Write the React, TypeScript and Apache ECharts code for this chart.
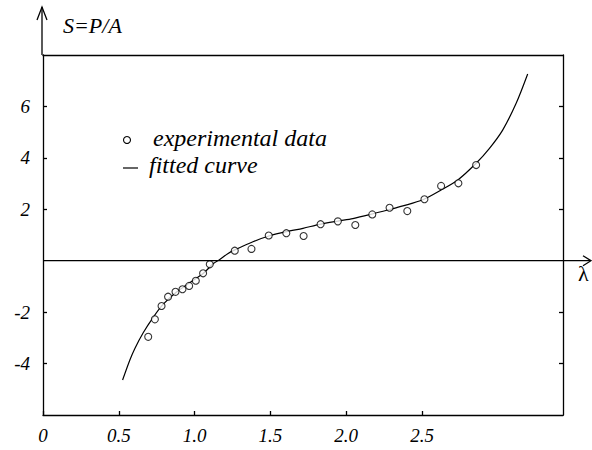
import React, { useEffect, useRef } from "react";
import * as echarts from "echarts";

// experimental data (lambda, S)
const expLambda = [0.694, 0.738, 0.782, 0.825, 0.874, 0.92, 0.964, 1.008, 1.056, 1.1, 1.265, 1.375, 1.489, 1.605, 1.719, 1.831, 1.945, 2.06, 2.172, 2.286, 2.403, 2.516, 2.626, 2.74, 2.857];
const expS = [-2.96, -2.28, -1.76, -1.4, -1.21, -1.11, -0.98, -0.78, -0.49, -0.14, 0.39, 0.46, 0.98, 1.07, 0.96, 1.42, 1.53, 1.39, 1.8, 2.06, 1.93, 2.39, 2.91, 3.01, 3.72];

// fitted curve (lambda, S)
const fitLambda = [0.525, 0.573, 0.606, 0.661, 0.727, 0.792, 0.881, 0.968, 1.056, 1.122, 1.166, 1.221, 1.265, 1.385, 1.495, 1.605, 1.715, 1.825, 1.945, 2.044, 2.154, 2.286, 2.374, 2.505, 2.626, 2.736, 2.857, 2.945, 3.032, 3.121, 3.197];
const fitS = [-4.64, -3.86, -3.41, -2.8, -2.2, -1.7, -1.22, -0.86, -0.5, -0.12, 0.05, 0.28, 0.42, 0.74, 0.97, 1.13, 1.26, 1.41, 1.54, 1.64, 1.79, 1.99, 2.13, 2.37, 2.75, 3.14, 3.79, 4.37, 5.08, 6.12, 7.26];

const xTickValues = [0, 0.5, 1, 1.5, 2, 2.5];
const yTickValues = [-4, -2, 2, 4, 6];

const legendNames = ["experimental data", "fitted curve"];
const yTitle = "S=P/A";
const xTitle = "λ";

const FONT = "Times New Roman";

export default function App() {
  const ref = useRef<HTMLDivElement>(null);

  useEffect(() => {
    if (!ref.current) return;
    const chart = echarts.init(ref.current, undefined, { renderer: "svg" });
    const lineStyle = { color: "#000", width: 1.3 };
    const labelStyle = {
      color: "#000",
      fontFamily: FONT,
      fontStyle: "italic" as const,
      fontSize: 19,
    };
    const txt = (text: string, x: number, y: number, size: number, italic: boolean) => ({
      type: "text",
      x,
      y,
      z: 10,
      style: {
        text,
        fill: "#000",
        fontFamily: FONT,
        fontSize: size,
        fontStyle: italic ? "italic" : "normal",
        verticalAlign: "middle",
      },
    });
    chart.setOption({
      animation: false,
      backgroundColor: "#fff",
      textStyle: { fontFamily: FONT },
      grid: { left: 43, right: 29, top: 55, bottom: 35, containLabel: false },
      xAxis: [
        {
          type: "value",
          min: 0,
          max: 3.43,
          position: "bottom",
          axisLine: { show: true, onZero: false, lineStyle },
          axisTick: { show: true, inside: true, length: 4, customValues: xTickValues, lineStyle },
          axisLabel: {
            ...labelStyle,
            margin: 11,
            customValues: xTickValues,
            formatter: (v: number) => (v === 0 ? "0" : v.toFixed(1)),
          },
          splitLine: { show: false },
        },
        {
          type: "value",
          min: 0,
          max: 3.43,
          position: "top",
          axisLine: { show: true, onZero: false, lineStyle },
          axisTick: { show: false },
          axisLabel: { show: false },
          splitLine: { show: false },
        },
      ],
      yAxis: [
        {
          type: "value",
          min: -6,
          max: 8,
          position: "left",
          axisLine: { show: true, onZero: false, lineStyle },
          axisTick: { show: true, inside: true, length: 4, customValues: yTickValues, lineStyle },
          axisLabel: { ...labelStyle, margin: 13, customValues: yTickValues },
          splitLine: { show: false },
        },
        {
          type: "value",
          min: -6,
          max: 8,
          position: "right",
          axisLine: { show: true, onZero: false, lineStyle },
          axisTick: { show: true, inside: true, length: 4, customValues: yTickValues, lineStyle },
          axisLabel: { show: false },
          splitLine: { show: false },
        },
      ],
      series: [
        {
          name: legendNames[1],
          type: "line",
          data: fitLambda.map((x, i) => [x, fitS[i]]),
          showSymbol: false,
          smooth: 0.3,
          lineStyle: { color: "#000", width: 1.2 },
          z: 2,
        },
        {
          name: legendNames[0],
          type: "scatter",
          data: expLambda.map((x, i) => [x, expS[i]]),
          symbol: "circle",
          symbolSize: 7,
          itemStyle: { color: "#fff", borderColor: "#000", borderWidth: 1.1 },
          z: 3,
        },
      ],
    });

    const px0 = chart.convertToPixel({ xAxisIndex: 0 }, 0) as number;
    const py0 = chart.convertToPixel({ yAxisIndex: 0 }, 0) as number;
    const pyTop = chart.convertToPixel({ yAxisIndex: 0 }, 8) as number;
    const black = { stroke: "#000", lineWidth: 1.3, fill: "none" };

    chart.setOption({
      graphic: [
        { type: "line", shape: { x1: px0, y1: py0, x2: 590, y2: py0 }, style: black, z: 10 },
        { type: "polyline", shape: { points: [[583, py0 - 5], [591, py0], [583, py0 + 5]] }, style: black, z: 10 },
        { type: "line", shape: { x1: px0 - 1, y1: pyTop, x2: px0 - 1, y2: 7 }, style: black, z: 10 },
        { type: "polyline", shape: { points: [[px0 - 6, 20], [px0 - 1, 7], [px0 + 4, 20]] }, style: black, z: 10 },
        txt(yTitle, 63, 25, 22, true),
        txt(xTitle, 578, 273, 22, false),
        { type: "circle", shape: { cx: 127, cy: 140, r: 3.5 }, style: { stroke: "#000", lineWidth: 1.1, fill: "#fff" }, z: 10 },
        txt(legendNames[0], 153, 138, 24, true),
        { type: "line", shape: { x1: 123, y1: 168, x2: 138, y2: 168 }, style: { stroke: "#000", lineWidth: 1.2 }, z: 10 },
        txt(legendNames[1], 149, 165, 24, true),
      ],
    });

    return () => chart.dispose();
  }, []);

  return (
    <div
      ref={ref}
      style={{ position: "fixed", left: 0, top: 0, width: 592, height: 450 }}
    />
  );
}
